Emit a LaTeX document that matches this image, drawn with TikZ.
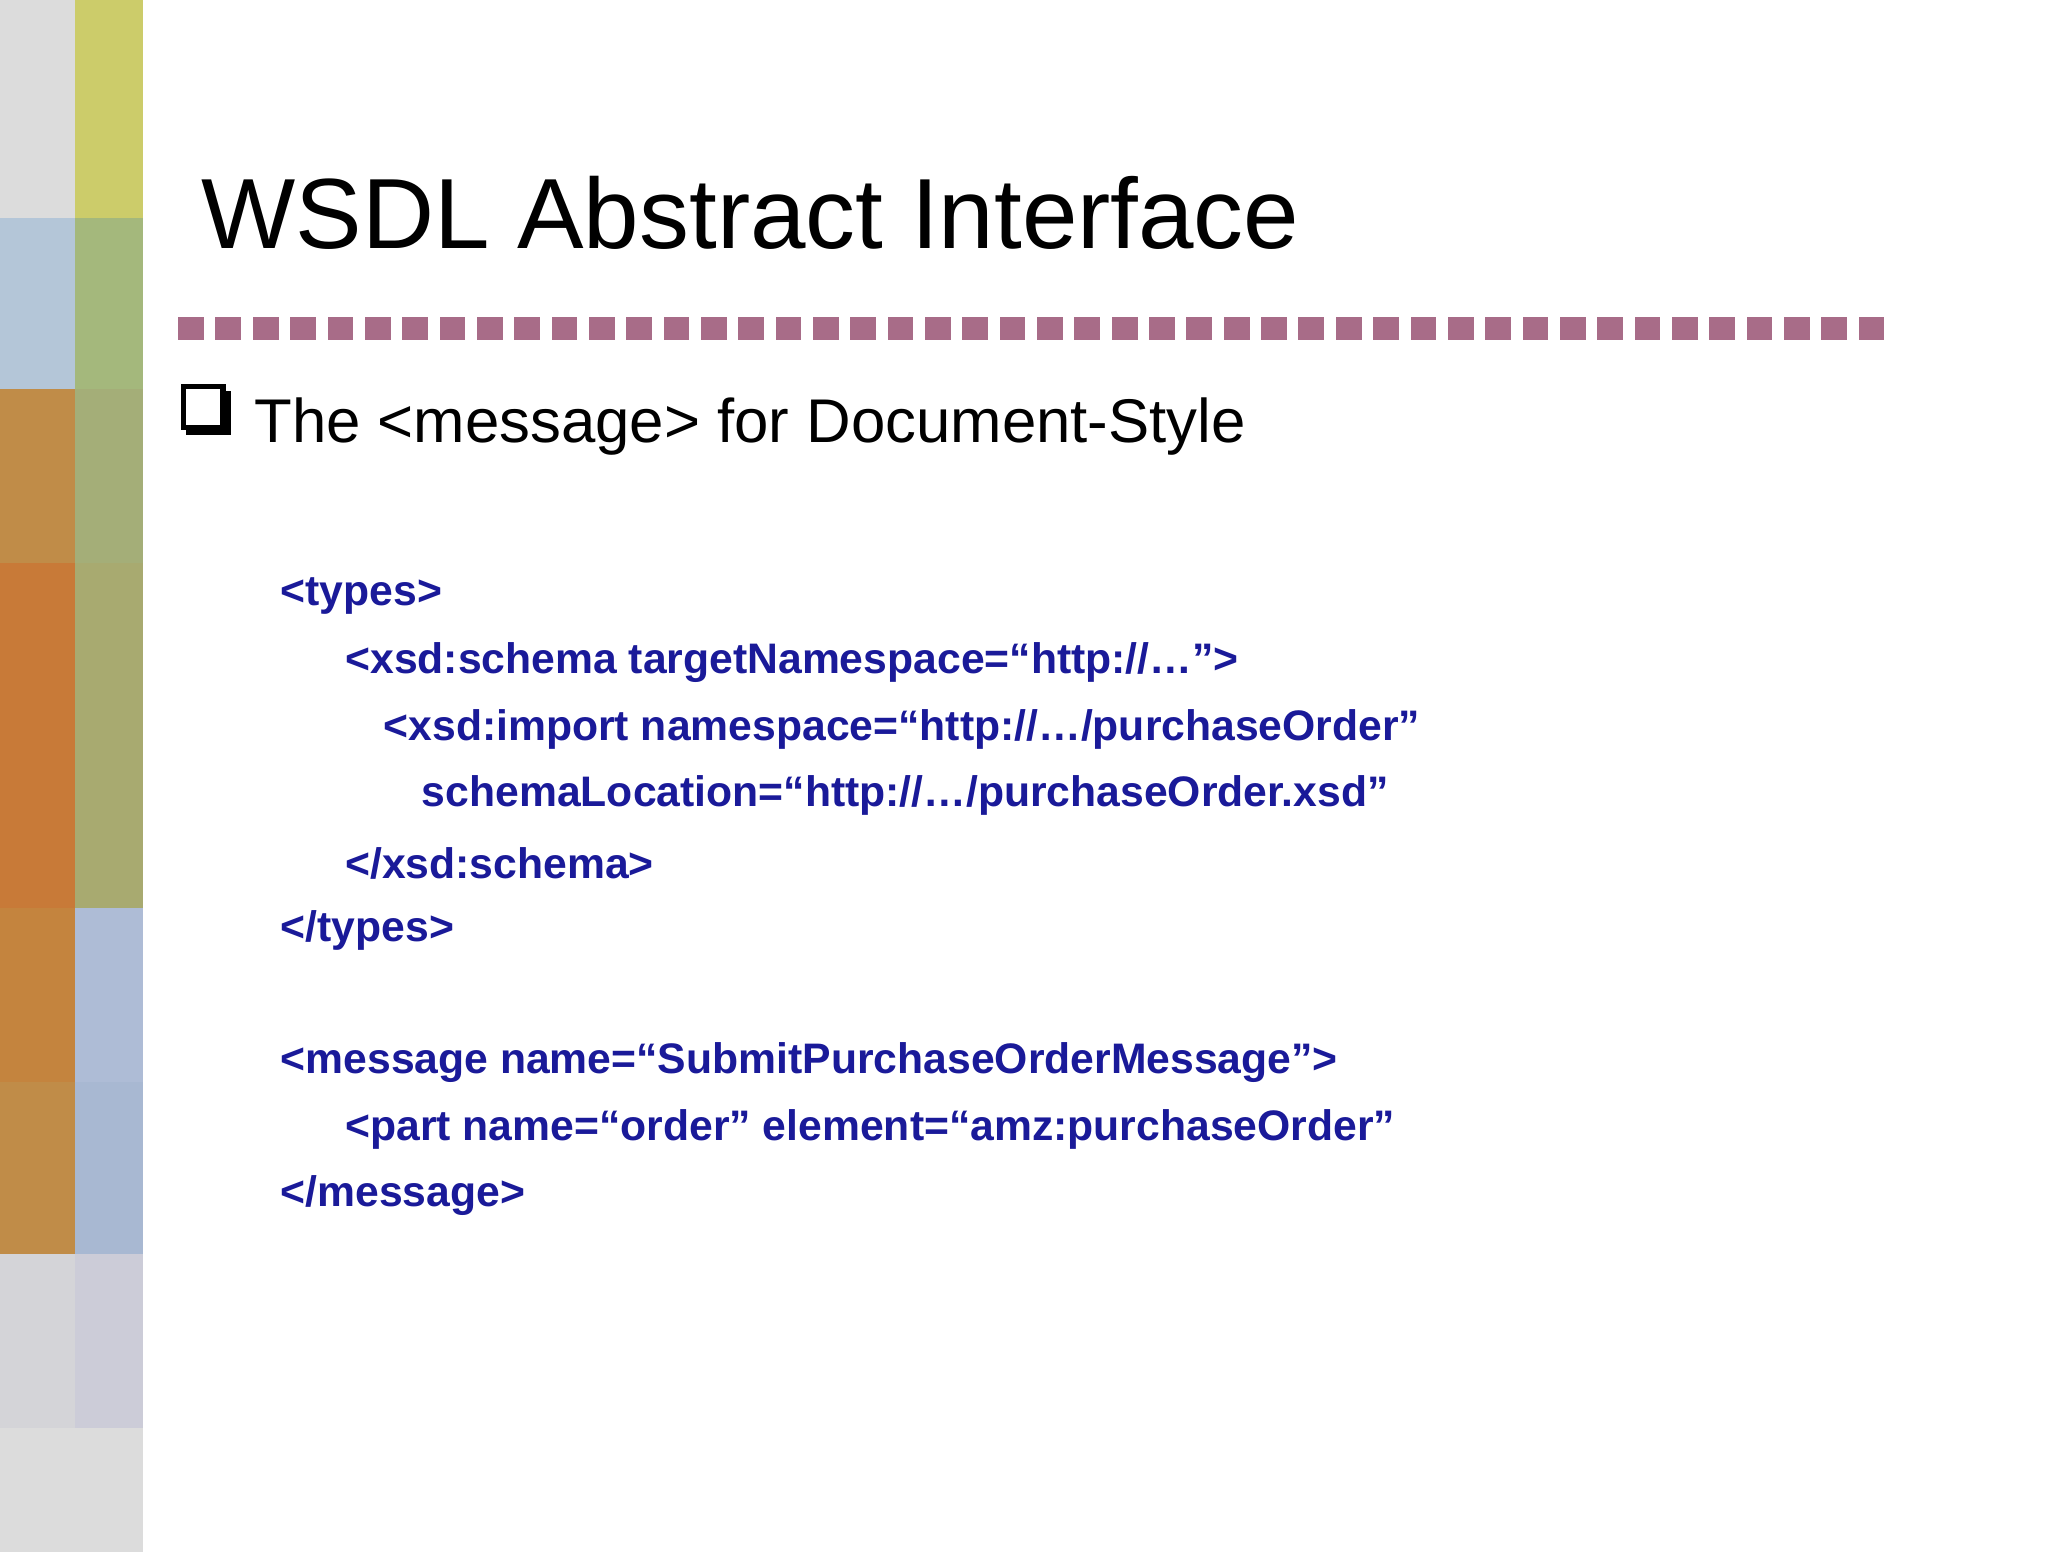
\documentclass[tikz,border=0pt]{standalone}
\usepackage{fontspec}
\setmainfont{Liberation Sans}
\definecolor{navy}{HTML}{1A1A99}
\definecolor{mauve}{HTML}{A86C88}
\begin{document}
\begin{tikzpicture}[x=0.01cm,y=-0.01cm,
  code/.style={anchor=west,inner sep=0pt,font=\fontsize{9.2}{11}\selectfont\bfseries,text=navy}]
\useasboundingbox (0,0) rectangle (1552,1176);
\fill[white] (0,0) rectangle (1552,1176);
% strips
\def\rows{0/165/DCDCDC/CCCC6A,165/295/B4C6D8/A4B87C,295/427/C08C48/A4AE78,427/688/C87A38/A8AA70,688/820/C4843E/AEBCD6,820/950/C08C48/A8B8D2,950/1082/D4D4D8/CCCCD8,1082/1176/DCDCDC/DCDCDC}
\foreach \a/\b/\c/\d in \rows {
  \definecolor{cl}{HTML}{\c}\definecolor{cr}{HTML}{\d}
  \fill[cl] (0,\a) rectangle (57,\b);
  \fill[cr] (57,\a) rectangle (108,\b);
}
\node[anchor=base west,inner sep=0pt,font=\fontsize{21.5}{24}\selectfont] (title) at (152,188) {WSDL Abstract Interface};
\foreach \i in {0,...,45} \fill[mauve] (135+\i*28.3,240) rectangle ++(19.5,18);
% bullet
\fill[black] (141,296) rectangle (175,330);
\fill[white] (139,293) rectangle (169,324);
\draw[black,line width=1.2pt] (139,293) rectangle (169,324);
\node[anchor=base west,inner sep=0pt,font=\fontsize{13.3}{16}\selectfont] (sub) at (192,335) {The <message> for Document-Style};
\node[code] (l1) at (212,452) {<types>};
\node[code] (l2) at (261,502) {<xsd:schema targetNamespace=“http://…”>};
\node[code] (l3) at (290,553) {<xsd:import namespace=“http://…/purchaseOrder”};
\node[code] (l4) at (319,603) {schemaLocation=“http://…/purchaseOrder.xsd”};
\node[code] (l5) at (261,654) {</xsd:schema>};
\node[code] (l6) at (212,705) {</types>};
\node[code] (l7) at (212,805) {<message name=“SubmitPurchaseOrderMessage”>};
\node[code] (l8) at (261,856) {<part name=“order” element=“amz:purchaseOrder”};
\node[code] (l9) at (212,906) {</message>};
\end{tikzpicture}
\end{document}
